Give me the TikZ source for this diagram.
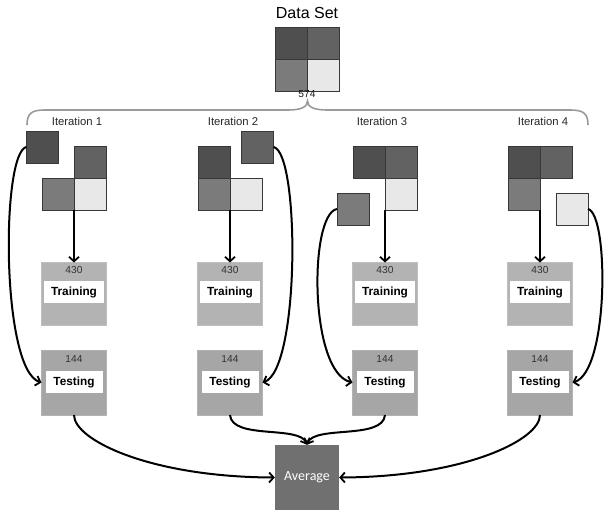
\documentclass[tikz,border=0pt]{standalone}
\usepackage{fontspec}
\setmainfont{Liberation Sans}
\newfontfamily\calib{Carlito}
\usetikzlibrary{arrows.meta}
\definecolor{cA}{HTML}{4F4F4F}
\definecolor{cB}{HTML}{626262}
\definecolor{cC}{HTML}{7B7B7B}
\definecolor{cD}{HTML}{E8E8E8}
\definecolor{trfill}{HTML}{B3B3B3}
\definecolor{tefill}{HTML}{A6A6A6}
\definecolor{avfill}{HTML}{707070}
\definecolor{bracegray}{HTML}{9A9A9A}
\begin{document}
\begin{tikzpicture}[x=1pt,y=-1pt,
  cell/.style={draw=black!78, line width=0.6pt, minimum size=32pt, inner sep=0pt, outer sep=0pt},
  dA/.style={cell, fill=cA}, dB/.style={cell, fill=cB}, dC/.style={cell, fill=cC}, dD/.style={cell, fill=cD},
  trainbox/.style={fill=trfill, draw=black!25, line width=0.4pt, minimum width=65pt, minimum height=63pt, inner sep=0pt, outer sep=0pt},
  testbox/.style={fill=tefill, draw=black!30, line width=0.4pt, minimum width=65pt, minimum height=65pt, inner sep=0pt, outer sep=0pt},
  whitelab/.style={fill=white, minimum height=22pt, inner sep=0pt, font=\fontsize{11.8}{12}\selectfont\bfseries},
  numlab/.style={inner sep=0pt, font=\fontsize{10.2}{11}\selectfont, text=black!80},
  itlab/.style={inner sep=0pt, font=\fontsize{11.3}{12}\selectfont, text=black!85},
  conn/.style={line width=2pt, -{Straight Barb[length=4.5pt,width=10pt,line width=1.8pt]}},
  brace/.style={draw=bracegray, line width=1.6pt}
]
\useasboundingbox (0,0) rectangle (606,511);

% Data set
\node[inner sep=0pt, font=\fontsize{16}{17}\selectfont] (dstitle) at (307,13) {Data Set};
\node[dA] (dsa) at (291,43) {};
\node[dB] (dsb) at (323,43) {};
\node[dC] (dsc) at (291,75) {};
\node[dD] (dsd) at (323,75) {};
\node[numlab, text=black!90] (dsn) at (307,94) {574};

% brace
\coordinate (brL) at (27,125);
\coordinate (brR) at (588,125);
\coordinate (brC) at (307.5,101);
\draw[brace] (brL) .. controls (27,113) and (32,110) .. (45,110) -- (288,110)
  .. controls (301,110) and (307.5,107) .. (brC)
  .. controls (307.5,107) and (314,110) .. (327,110) -- (570,110)
  .. controls (583,110) and (588,113) .. (brR);

% iteration labels
\node[itlab] (it1) at (77,121) {Iteration 1};
\node[itlab] (it2) at (233,121) {Iteration 2};
\node[itlab] (it3) at (382,121) {Iteration 3};
\node[itlab] (it4) at (543,121) {Iteration 4};

% iteration 1
\node[dA] (s1) at (42.5,147) {};
\node[dB] (b1b) at (90,162) {};
\node[dC] (b1c) at (58,194) {};
\node[dD] (b1d) at (90,194) {};
% iteration 2
\node[dB] (s2) at (257.5,147) {};
\node[dA] (b2a) at (214,162) {};
\node[dC] (b2c) at (214,194) {};
\node[dD] (b2d) at (246,194) {};
% iteration 3
\node[dC] (s3) at (353,209) {};
\node[dA] (b3a) at (369,162) {};
\node[dB] (b3b) at (401,162) {};
\node[dD] (b3d) at (401,194) {};
% iteration 4
\node[dD] (s4) at (572,209) {};
\node[dA] (b4a) at (524,162) {};
\node[dB] (b4b) at (556,162) {};
\node[dC] (b4c) at (524,194) {};

% training / testing boxes
\foreach \i/\x in {1/74,2/230,3/385,4/540}{
  \node[trainbox] (tr\i) at (\x,294) {};
  \node[numlab] (trn\i) at (\x,270) {430};
  \node[whitelab, minimum width=60pt] (trl\i) at (\x,292) {Training};
  \node[testbox] (te\i) at (\x,382.5) {};
  \node[numlab] (ten\i) at (\x,359) {144};
  \node[whitelab, minimum width=57pt] (tel\i) at (\x,382) {Testing};
}

% average
\node[fill=avfill, minimum width=64pt, minimum height=65pt, inner sep=0pt, text=white,
  font=\calib\fontsize{14}{15}\selectfont] (avg) at (307,477.5) {Average};

% vertical arrows
\draw[conn] (b1c.south east) -- (tr1.north);
\draw[conn] (b2c.south east) -- (tr2.north);
\draw[conn] (b3d.south west) -- (tr3.north);
\draw[conn] (b4c.south east) -- (tr4.north);

% curved arrows from held-out squares to testing
\draw[conn] (s1.west) .. controls (1,152) and (1,370) .. (te1.west);
\draw[conn] (s2.east) .. controls (300,152) and (300,370) .. (te2.east);
\draw[conn] (s3.west) .. controls (309,214) and (309,372) .. (te3.west);
\draw[conn] (s4.east) .. controls (609,214) and (609,372) .. (te4.east);

% to average
\draw[conn] (te1.south) .. controls (74,440) and (150,477) .. (avg.west);
\draw[conn] (te4.south) .. controls (540,440) and (464,477) .. (avg.east);
\draw[conn] (te2.south) .. controls (232,440) and (300,425) .. (avg.north);
\draw[conn] (te3.south) .. controls (383,440) and (314,425) .. (avg.north);
\end{tikzpicture}
\end{document}
